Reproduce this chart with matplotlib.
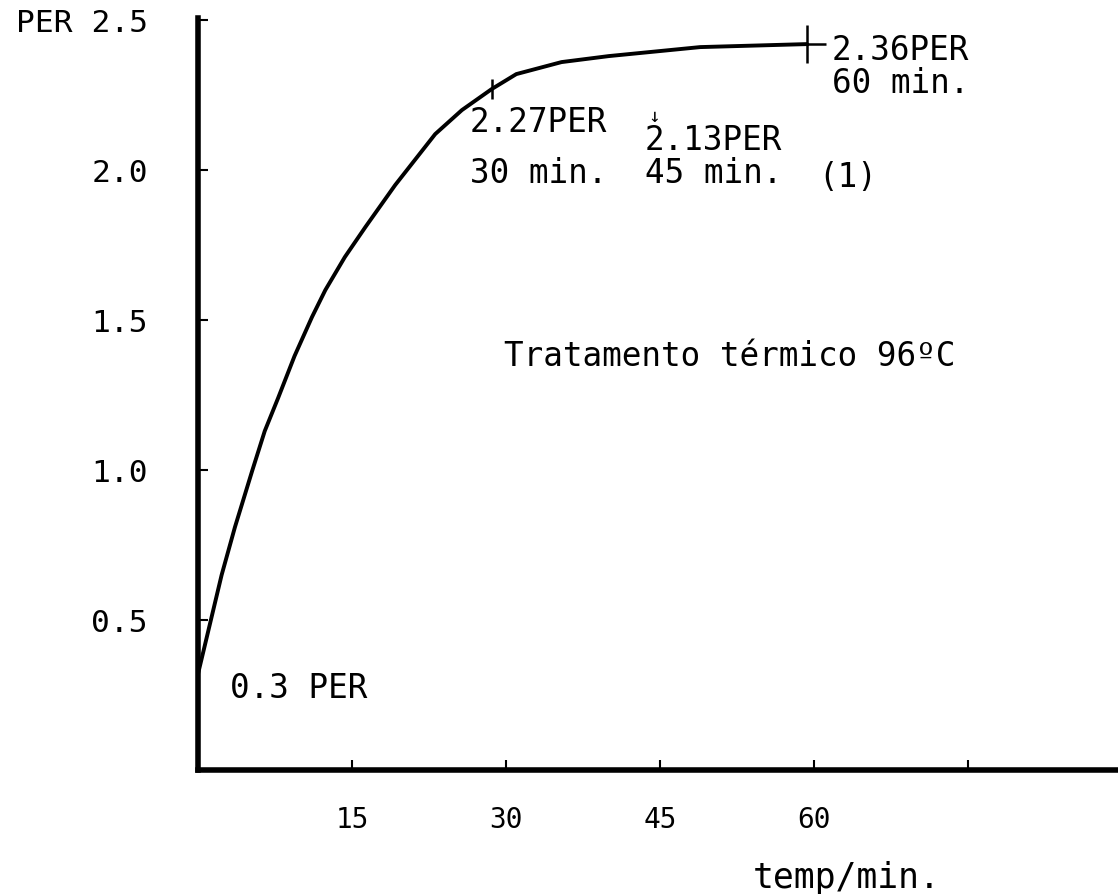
import matplotlib
matplotlib.use('Agg')
from matplotlib import pyplot as plt
from matplotlib import rc

# values
temp_min = [0, 2.3, 3.6, 5.3, 6.5, 7.8, 9.4, 11.1, 12.4, 14.3, 16.3, 19.2,
            23.1, 25.7, 28.6, 31.0, 35.4, 40.0, 48.9, 59.3]
per = [0.32, 0.65, 0.81, 1.0, 1.13, 1.24, 1.38, 1.51, 1.60, 1.71, 1.81, 1.95,
       2.12, 2.20, 2.27, 2.32, 2.36, 2.38, 2.41, 2.42]

x_ticks = [15, 30, 45, 60, 75]
x_labels = ['15', '30', '45', '60', '']
y_ticks = [0.5, 1.0, 1.5, 2.0, 2.5]
y_labels = ['0.5', '1.0', '1.5', '2.0', 'PER 2.5']

marked_t = [28.6, 59.3]
marked_per = [2.27, 2.42]

MONO = ['DejaVu Sans Mono', 'DejaVu Sans']
FS = 23.5

rc('font', family=MONO, size=FS)

fig = plt.figure(figsize=(11.18, 8.94), dpi=100)
W, H = 1118.0, 894.0
x0_px, x1_px = 198.0, 1116.0
y0_px, y1_px = 770.0, 18.0
ax = fig.add_axes([x0_px / W, 1 - y0_px / H, (x1_px - x0_px) / W,
                   (y0_px - y1_px) / H])

ax.plot(temp_min, per, color='black', lw=2.8, solid_capstyle='round',
        solid_joinstyle='round')
ax.plot(marked_t[0], marked_per[0], marker='|', ms=15, mew=1.8, color='black')
ax.plot(marked_t[1], marked_per[1], marker='+', ms=27, mew=1.8, color='black')

ax.set_xlim(0, 89.4)
ax.set_ylim(0, 2.507)

for s in ['top', 'right']:
    ax.spines[s].set_visible(False)
for s in ['left', 'bottom']:
    ax.spines[s].set_linewidth(4)

ax.set_xticks(x_ticks)
ax.set_xticklabels(x_labels)
ax.set_yticks(y_ticks)
ax.set_yticklabels(y_labels)
ax.tick_params(axis='x', direction='in', length=7, width=1.5, pad=26,
               labelsize=20)
ax.tick_params(axis='y', direction='in', length=7, width=1.5, pad=36,
               labelsize=22.5)

txt = dict(fontsize=FS, ha='left', va='center', clip_on=False)
ax.text(26.5, 2.157, '2.27PER', **txt)
ax.text(26.5, 1.99, '30 min.', **txt)
ax.text(44.4, 2.18, '\u2193', fontsize=14, ha='center', va='center')
ax.text(43.5, 2.10, '2.13PER', **txt)
ax.text(43.5, 1.99, '45 min.', **txt)
ax.text(60.4, 1.975, '(1)', **txt)
ax.text(61.7, 2.40, '2.36PER', **txt)
ax.text(61.7, 2.29, '60 min.', **txt)
ax.text(29.8, 1.377, 'Tratamento térmico 96ºC', **txt)
ax.text(3.1, 0.273, '0.3 PER', **txt)
ax.text(54.0, -0.36, 'temp/min.', fontsize=25, ha='left', va='center',
        clip_on=False)

fig.savefig('out.png', dpi=100, facecolor='white')
